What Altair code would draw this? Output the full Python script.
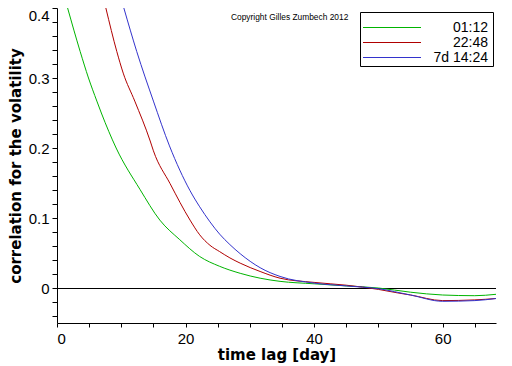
import altair as alt
import pandas as pd

series_names = ["01:12", "22:48", "7d 14:24"]
series_colors = ["#00b400", "#b00000", "#3333cc"]

green_day = [1.65, 3.6, 4.9, 6.2, 6.9, 9.2, 12.9, 16.0, 19.1, 22.2, 25.3, 28.5, 31.6, 34.7, 40, 45, 50, 55, 60, 65, 68.3]
green_val = [0.4, 0.338, 0.3, 0.267, 0.25, 0.2, 0.141, 0.097, 0.069, 0.045, 0.031, 0.021, 0.014, 0.0095, 0.006, 0.003, 0.0, -0.006, -0.01, -0.011, -0.009]

red_day = [7.6, 9.3, 10.3, 12.1, 14.5, 15.0, 17.6, 20.7, 22.2, 23.8, 25.3, 26.9, 28.5, 31.6, 34.7, 40, 45, 50, 53, 55, 60, 65, 68.3]
red_val = [0.4, 0.338, 0.307, 0.267, 0.21, 0.196, 0.149, 0.097, 0.076, 0.061, 0.052, 0.043, 0.0355, 0.0236, 0.014, 0.008, 0.004, -0.002, -0.007, -0.01, -0.018, -0.017, -0.015]

blue_day = [10.4, 12.4, 15.0, 17.5, 20.7, 22.2, 23.8, 25.3, 26.9, 28.5, 31.6, 34.7, 40, 45, 50, 55, 60, 65, 68.3]
blue_val = [0.4, 0.338, 0.267, 0.203, 0.139, 0.116, 0.0945, 0.077, 0.062, 0.049, 0.029, 0.0165, 0.007, 0.003, -0.001, -0.01, -0.019, -0.018, -0.015]

x_ticks = [0, 5, 10, 15, 20, 25, 30, 35, 40, 45, 50, 55, 60, 65]
y_ticks = [-0.04, -0.02, 0, 0.02, 0.04, 0.06, 0.08, 0.1, 0.12, 0.14, 0.16, 0.18, 0.2,
           0.22, 0.24, 0.26, 0.28, 0.3, 0.32, 0.34, 0.36, 0.38, 0.4]

rows = []
for name, days, vals in zip(series_names, [green_day, red_day, blue_day], [green_val, red_val, blue_val]):
    for i, (d, v) in enumerate(zip(days, vals)):
        rows.append({"series": name, "day": d, "value": v, "order": i})
df = pd.DataFrame(rows)

FONT = "Liberation Sans"
TFONT = "DejaVu Sans"

x_enc = alt.X("day:Q", scale=alt.Scale(domain=[0, 68.3], nice=False, zero=False),
              axis=alt.Axis(title="time lag  [day]", values=x_ticks, tickCount=50, labelOverlap=False,
                            labelExpr="datum.value % 20 == 0 ? datum.label : ''",
                            tickSize=4, labelPadding=4,
                            titleY=36, titleBaseline="alphabetic",
                            titleFontSize=15, titleFont=TFONT, titleFontWeight="bold"))
y_enc = alt.Y("value:Q", scale=alt.Scale(domain=[-0.05, 0.4], nice=False, zero=False),
              axis=alt.Axis(title="correlation for the volatility", values=y_ticks, tickCount=50, labelOverlap=False,
                            labelExpr="(round(datum.value*100) % 10 == 0) ? format(datum.value, '~g') : ''",
                            labelFlush=True, labelFlushOffset=0,
                            tickSize=5, labelPadding=3,
                            titleX=-37, titleBaseline="alphabetic",
                            titleFontSize=15, titleFont=TFONT, titleFontWeight="bold"))

lines = alt.Chart(df).mark_line(strokeWidth=1, clip=True, interpolate="monotone").encode(
    x=x_enc,
    y=y_enc,
    order="order:Q",
    color=alt.Color("series:N",
                    scale=alt.Scale(domain=series_names, range=series_colors),
                    legend=None),
)

zero = alt.Chart(pd.DataFrame({"y": [0]})).mark_rule(color="black", strokeWidth=1, yOffset=0.5).encode(y="y:Q")

one = pd.DataFrame({"k": [0]})

copyright_txt = alt.Chart(pd.DataFrame({"t": ["Copyright Gilles Zumbech 2012"]})).mark_text(
    align="left", baseline="middle", fontSize=8.4, font=FONT, color="black"
).encode(text="t:N", x=alt.value(174), y=alt.value(9))

# hand-drawn legend box (decoration, placed in pixels)
legend_box = alt.Chart(one).mark_rect(fill="white", stroke="black", strokeWidth=1).encode(
    x=alt.value(303.5), x2=alt.value(436.5), y=alt.value(4.5), y2=alt.value(58.5))

legend_layers = [legend_box]
for i, (name, col) in enumerate(zip(series_names, series_colors)):
    yy = 19.5 + 15 * i
    legend_layers.append(
        alt.Chart(one).mark_rule(color=col, strokeWidth=1).encode(
            x=alt.value(306), x2=alt.value(364), y=alt.value(yy)))
    legend_layers.append(
        alt.Chart(pd.DataFrame({"t": [name]})).mark_text(
            align="right", baseline="middle", fontSize=14, font=FONT, color="black"
        ).encode(text="t:N", x=alt.value(431), y=alt.value(yy)))

chart = alt.layer(zero, lines, copyright_txt, *legend_layers).properties(
    width=439, height=315,
    autosize=alt.AutoSizeParams(type="none"),
    padding={"left": 49, "top": 0, "right": 8, "bottom": 40},
).configure_view(stroke=None).configure_axis(
    grid=False, labelFont=FONT, labelFontSize=15, labelColor="black",
    domainColor="black", tickColor="black", titleColor="black",
)

chart.save("out.html", embed_options={"renderer": "svg", "actions": False})
